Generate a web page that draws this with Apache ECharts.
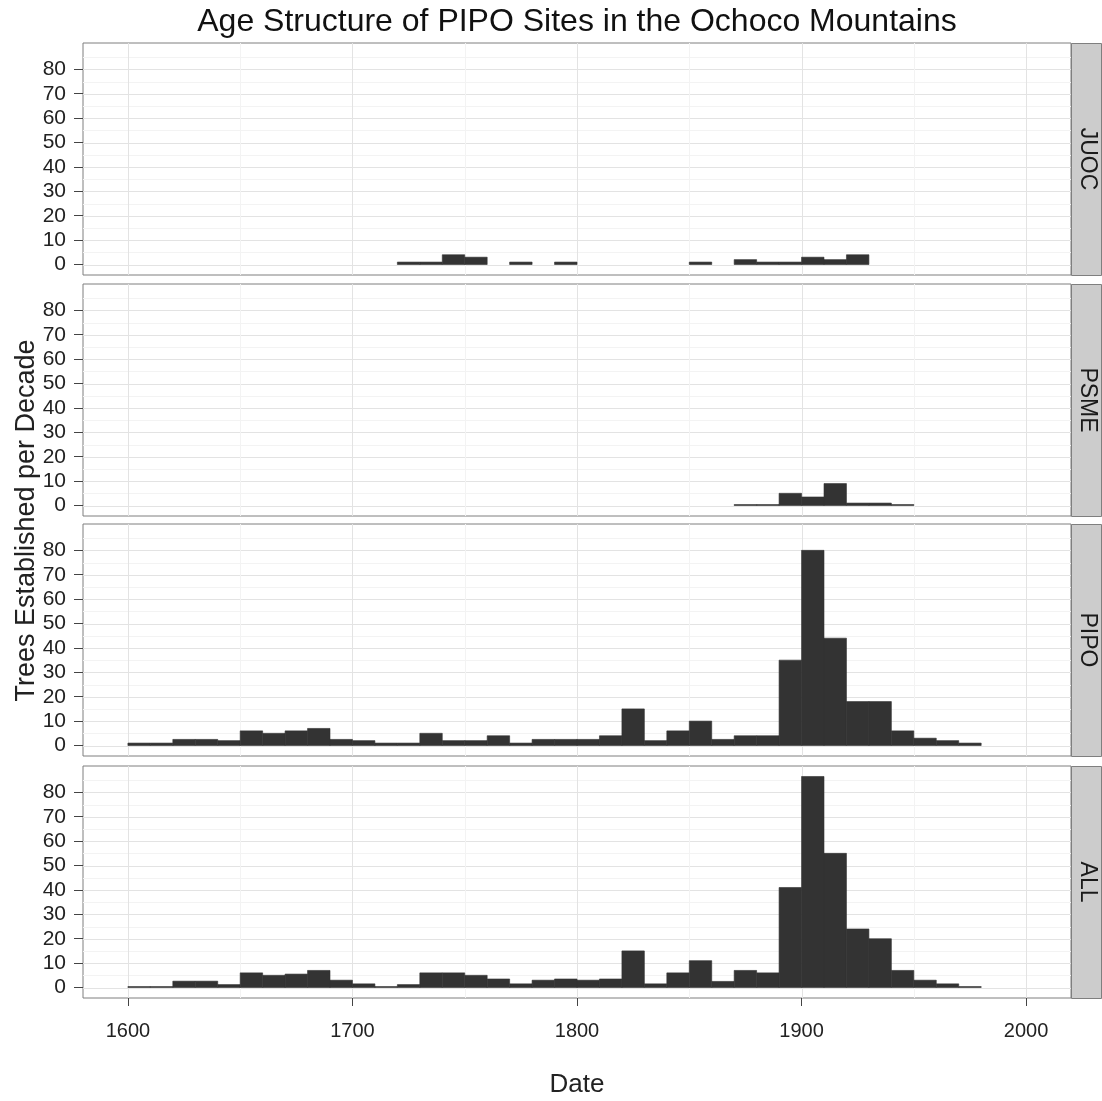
<!DOCTYPE html>
<html><head><meta charset="utf-8">
<script src="https://cdn.jsdelivr.net/npm/echarts@6/dist/echarts.min.js"></script>
<style>html,body{margin:0;padding:0;background:#fff}#c{width:1102px;height:1101px}</style>
</head><body><div id="c"></div>
<script>
// ---- data ----
const decades = [1600,1610,1620,1630,1640,1650,1660,1670,1680,1690,1700,1710,1720,1730,1740,1750,1760,1770,1780,1790,1800,1810,1820,1830,1840,1850,1860,1870,1880,1890,1900,1910,1920,1930,1940,1950,1960,1970];
const panelNames = ['JUOC','PSME','PIPO','ALL'];
const juoc = [null,null,null,null,null,null,null,null,null,null,null,null,1,1,4,3,null,1,null,1,null,null,null,null,null,1,null,2,1,1,3,2,4,null,null,null,null,null];
const psme = [null,null,null,null,null,null,null,null,null,null,null,null,null,null,null,null,null,null,null,null,null,null,null,null,null,null,null,0.4,0.4,5,3.5,9,1,1,0.4,null,null,null];
const pipo = [1,1,2.5,2.5,2,6,5,6,7,2.5,2,1,1,5,2,2,4,1,2.5,2.5,2.5,4,15,2,6,10,2.5,4,4,35,80,44,18,18,6,3,2,1];
const all  = [0.4,0.4,2.6,2.6,1.2,6,5,5.5,7,3,1.5,0.4,1.2,6,6,5,3.5,1.5,3,3.5,3,3.5,15,1.5,6,11,2.5,7,6,41,86.5,55,24,20,7,3,1.5,0.4];
const yTicks = [0,10,20,30,40,50,60,70,80];
const yMinor = [5,15,25,35,45,55,65,75,85];
const xTicks = [1600,1700,1800,1900,2000];
const xMinor = [1650,1750,1850,1950];
const binWidth = 10;
const titleText = 'Age Structure of PIPO Sites in the Ochoco Mountains';
const xTitle = 'Date';
const yTitle = 'Trees Established per Decade';

// ---- layout ----
const FONT = '"Liberation Sans", Arial, sans-serif';
const L = 83, R = 1071, H = 232;
const tops = [43, 284, 524, 766];
const X_MIN = 1580, X_MAX = 2020, Y_MIN = -4.3, Y_MAX = 90.8;
const seriesVals = [juoc, psme, pipo, all];

function renderBar(params, api) {
  const s = api.value(0), v = api.value(1);
  const p0 = api.coord([s, 0]);
  const p1 = api.coord([s + binWidth, v]);
  return {type:'rect', shape:{x:p0[0], y:p1[1], width:p1[0]-p0[0], height:p0[1]-p1[1]},
    style:{fill:'#333333', stroke:'#333333', lineWidth:0.6}};
}
function renderHLine(params, api) {
  const cs = params.coordSys;
  const y = Math.round(api.coord([X_MIN, api.value(0)])[1]) + 0.5;
  return {type:'line', shape:{x1:cs.x, y1:y, x2:cs.x+cs.width, y2:y},
    style:{stroke: api.value(1) ? '#e3e3e3' : '#f3f3f3', lineWidth:1}};
}
function renderVLine(params, api) {
  const cs = params.coordSys;
  const x = Math.round(api.coord([api.value(0), 0])[0]) + 0.5;
  return {type:'line', shape:{x1:x, y1:cs.y, x2:x, y2:cs.y+cs.height},
    style:{stroke: api.value(1) ? '#e3e3e3' : '#f3f3f3', lineWidth:1}};
}

const grids = [], xAxes = [], yAxes = [], series = [], graphics = [];
tops.forEach((t, i) => {
  grids.push({left:L, top:t, width:R-L, height:H, show:true, borderColor:'#7f7f7f', borderWidth:1, backgroundColor:'#ffffff'});
  const last = i === tops.length - 1;
  xAxes.push({type:'value', gridIndex:i, min:X_MIN, max:X_MAX, position:'bottom',
    axisLine:{show:false, onZero:false}, splitLine:{show:false},
    axisTick:{show:last, customValues:xTicks, length:8, lineStyle:{color:'#444'}},
    axisLabel:{show:last, customValues:xTicks, fontSize:20, color:'#222', margin:23, fontFamily:FONT,
      formatter: v => String(v)},
    name: last ? xTitle : '', nameLocation:'middle', nameGap:74,
    nameTextStyle:{fontSize:26, color:'#222', fontFamily:FONT}});
  yAxes.push({type:'value', gridIndex:i, min:Y_MIN, max:Y_MAX, position:'left',
    axisLine:{show:false, onZero:false}, splitLine:{show:false},
    axisTick:{show:true, customValues:yTicks, length:9, lineStyle:{color:'#444'}},
    axisLabel:{customValues:yTicks, fontSize:21, color:'#222', margin:17, fontFamily:FONT,
      formatter: v => String(v)}});
  const hl = yTicks.map(v => [v, 1]).concat(yMinor.map(v => [v, 0]));
  const vl = xTicks.map(v => [v, 1]).concat(xMinor.map(v => [v, 0]));
  series.push({type:'custom', xAxisIndex:i, yAxisIndex:i, z:1, silent:true, renderItem:renderHLine, data:hl, encode:{y:0}});
  series.push({type:'custom', xAxisIndex:i, yAxisIndex:i, z:1, silent:true, renderItem:renderVLine, data:vl, encode:{x:0}});
  const vals = seriesVals[i];
  const data = [];
  decades.forEach((d, k) => { if (vals[k] != null) data.push([d, vals[k]]); });
  series.push({type:'custom', name:panelNames[i], xAxisIndex:i, yAxisIndex:i, z:3, renderItem:renderBar, data:data, encode:{x:0, y:1}});
  // strip
  graphics.push({type:'rect', shape:{x:R+0.5, y:t+0.5, width:30, height:H}, style:{fill:'#cccccc', stroke:'#7f7f7f', lineWidth:1}});
  graphics.push({type:'text', x:R+16, y:t+H/2, rotation:-Math.PI/2,
    style:{text:panelNames[i], font:'23px '+FONT, fill:'#1a1a1a', align:'center', verticalAlign:'middle', textAlign:'center', textVerticalAlign:'middle'}});
});
graphics.push({type:'text', x:(L+R)/2, y:22, style:{text:titleText, font:'32px '+FONT, fill:'#111', align:'center', verticalAlign:'middle', textAlign:'center', textVerticalAlign:'middle'}});
graphics.push({type:'text', x:27, y:(tops[0]+tops[3]+H)/2, rotation:Math.PI/2,
  style:{text:yTitle, font:'27px '+FONT, fill:'#222', align:'center', verticalAlign:'middle', textAlign:'center', textVerticalAlign:'middle'}});

const chart = echarts.init(document.getElementById('c'), null, {renderer:'canvas'});
chart.setOption({animation:false, backgroundColor:'#ffffff', grid:grids, xAxis:xAxes, yAxis:yAxes, series:series, graphic:graphics});
</script></body></html>
